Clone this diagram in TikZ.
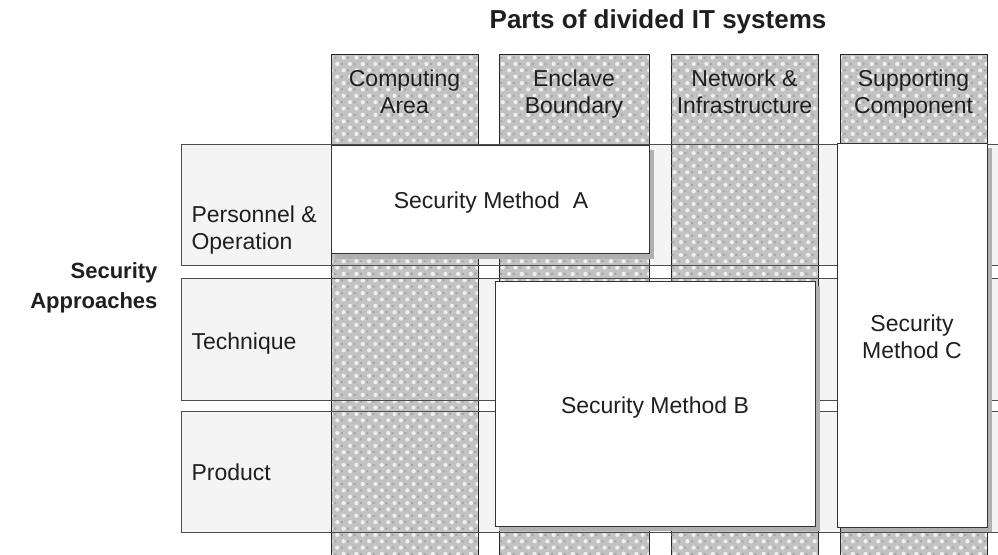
\documentclass[tikz,border=0pt]{standalone}
\usepackage{fontspec}
\setmainfont{Liberation Sans}
\usetikzlibrary{patterns.meta}

\begin{document}
\begin{tikzpicture}[x=1pt,y=-1pt,
  rowbox/.style={fill=gray!9,draw=gray!60!black,line width=0.6pt},
  rowline/.style={draw=gray!60!black,line width=0.5pt},
  colstrip/.style={draw=gray!30!black,line width=0.6pt,preaction={fill=gray!48},
    pattern={Dots[distance=9pt,radius=2.1pt,angle=45]},pattern color=white!88!gray,
    postaction={pattern={Dots[distance=9pt,radius=1.4pt,angle=45,xshift=4.5pt]},pattern color=gray!72}},
  dropshadow/.style={fill=gray!62},
  methodbox/.style={fill=white,draw=black!80,line width=0.6pt},
  txt/.style={font=\fontsize{23}{27}\selectfont,text=black!88},
  headline/.style={font=\fontsize{26}{30}\selectfont\bfseries,text=black!88}]
\useasboundingbox (0,0) rectangle (998,554);
\clip (0,0) rectangle (998,554);

% rows of security approaches
\filldraw[rowbox] (181,144) rectangle (1010,265);
\filldraw[rowbox] (181,278) rectangle (1010,400);
\filldraw[rowbox] (181,411) rectangle (1010,532);

% columns of divided IT systems
\path[colstrip] (331,54) rectangle (478,570);
\path[colstrip] (499,54) rectangle (649,570);
\path[colstrip] (671,54) rectangle (818,570);
\path[colstrip] (840,54) rectangle (987,570);

\draw[rowline] (181,144) rectangle (1010,265);
\draw[rowline] (181,278) rectangle (1010,400);
\draw[rowline] (181,411) rectangle (1010,532);

% security methods
\fill[dropshadow] (335,150) rectangle (654,259);
\filldraw[methodbox] (331,145) rectangle (649,253);
\fill[dropshadow] (499,286) rectangle (820,531);
\filldraw[methodbox] (495,281) rectangle (815,526);
\fill[dropshadow] (841,148) rectangle (992,532);
\filldraw[methodbox] (837,143) rectangle (987,527);

\node[headline] (title) at (658,22) {Parts of divided IT systems};
\node[headline,anchor=east,align=right,font=\fontsize{22}{30}\selectfont\bfseries] (approach) at (161,288) {Security\\Approaches};

\node[txt,align=center] (computing) at (404.5,95) {\strut Computing\\\strut Area};
\node[txt,align=center] (enclave) at (574,95) {\strut Enclave\\\strut Boundary};
\node[txt,align=center] (network) at (744.5,95) {\strut Network \&\\\strut Infrastructure};
\node[txt,align=center] (supporting) at (913.5,95) {\strut Supporting\\\strut Component};

\node[txt,anchor=west,align=left] (personnel) at (188,231) {\strut Personnel \&\\\strut Operation};
\node[txt,anchor=west] (technique) at (188,344) {\strut Technique};
\node[txt,anchor=west] (product) at (188,475) {\strut Product};

\node[txt] (methodA) at (491,203) {\strut Security Method~ A};
\node[txt] (methodB) at (655,408) {\strut Security Method B};
\node[txt,align=center] (methodC) at (912,340) {\strut Security\\\strut Method C};
\end{tikzpicture}
\end{document}
